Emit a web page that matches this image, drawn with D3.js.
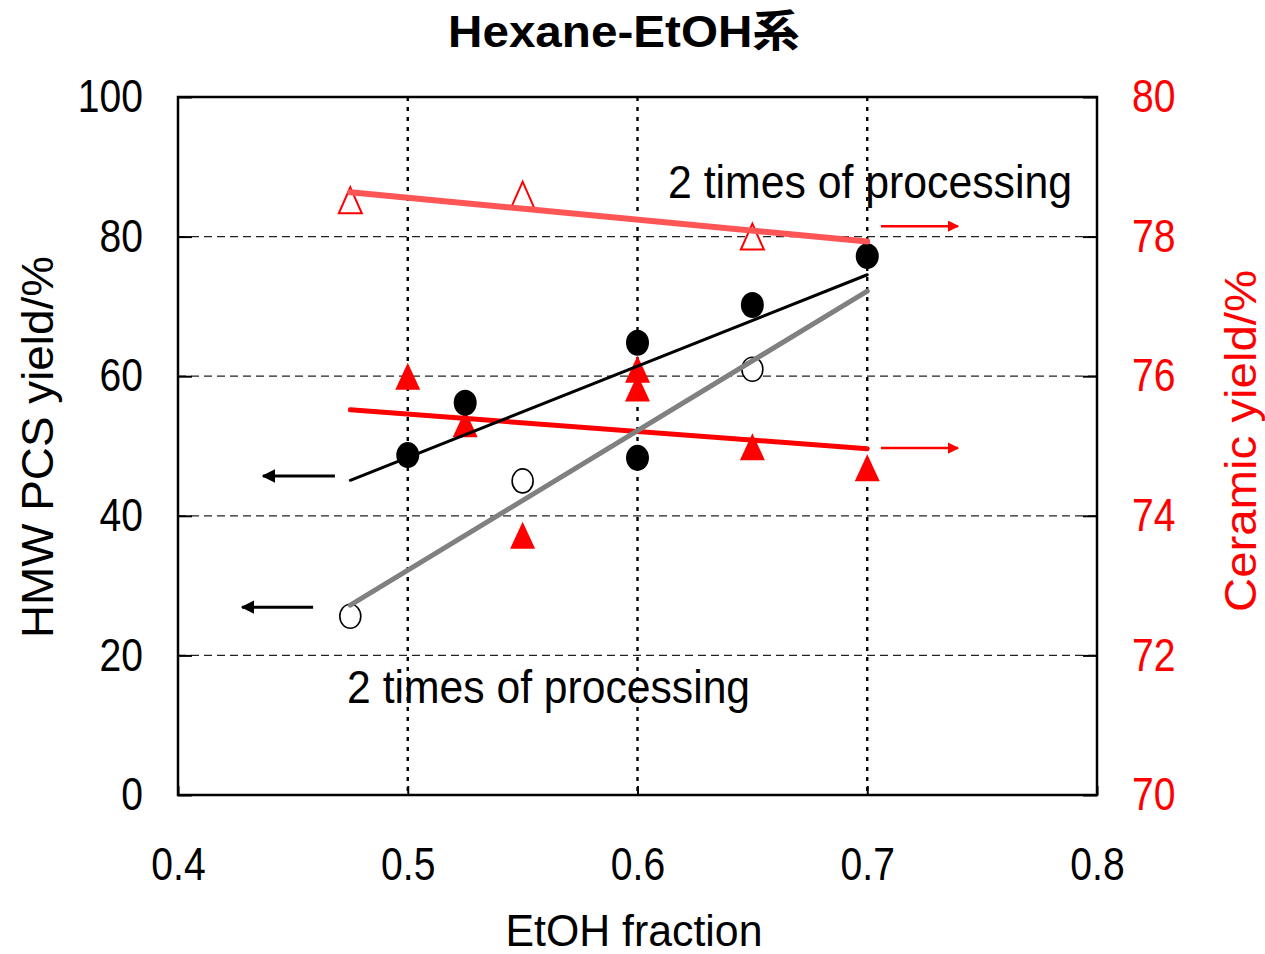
<!DOCTYPE html>
<html>
<head>
<meta charset="utf-8">
<script src="https://cdn.jsdelivr.net/npm/d3@7"></script>
<style>
  body { margin: 0; background: #fff; }
  text { font-family: "Liberation Sans", Arial, "Noto Sans CJK JP", sans-serif; }
</style>
</head>
<body>
<svg id="chart" width="1265" height="954"></svg>
<script>
// Axis ticks
const xTicks = [0.4, 0.5, 0.6, 0.7, 0.8];
const leftTicks = [0, 20, 40, 60, 80, 100];
const rightTicks = [70, 72, 74, 76, 78, 80];

// HMW PCS yield (%), single processing (filled circles)
const pcsX = [0.5, 0.525, 0.6, 0.6, 0.65, 0.7];
const pcsY = [48.7, 56.2, 64.8, 48.3, 70.2, 77.2];
// HMW PCS yield (%), 2 times of processing (open circles)
const pcs2X = [0.475, 0.55, 0.65];
const pcs2Y = [25.6, 45.0, 61.0];
// Ceramic yield (%), single processing (filled triangles)
const ceramicX = [0.5, 0.525, 0.55, 0.6, 0.6, 0.65, 0.7];
const ceramicY = [76.0, 75.32, 73.72, 76.1, 75.83, 74.99, 74.69];
// Ceramic yield (%), 2 times of processing (open triangles)
const ceramic2X = [0.475, 0.55, 0.65];
const ceramic2Y = [78.52, 78.60, 78.0];
// EtOH fraction span covered by the linear trend lines
const trendRange = [0.475, 0.7];

const svg = d3.select("#chart");
const plot = { left: 178, right: 1097, top: 97, bottom: 795 };

const x = d3.scaleLinear().domain([0.4, 0.8]).range([plot.left, plot.right]);
const yL = d3.scaleLinear().domain([0, 100]).range([plot.bottom, plot.top]);
const yR = d3.scaleLinear().domain([70, 80]).range([plot.bottom, plot.top]);

const RED = "#ff0000";

// squeeze text horizontally to mimic the narrow face of the original
function condense(sel, ratio) {
  sel.each(function () {
    const w = this.getComputedTextLength();
    d3.select(this).attr("textLength", w * ratio).attr("lengthAdjust", "spacingAndGlyphs");
  });
}
function fitWidth(sel, width) {
  sel.attr("textLength", width).attr("lengthAdjust", "spacingAndGlyphs");
}

// grid
svg.append("g").selectAll("line")
  .data(leftTicks.filter(v => v > 0 && v < 100))
  .join("line")
  .attr("x1", plot.left).attr("x2", plot.right)
  .attr("y1", d => yL(d)).attr("y2", d => yL(d))
  .attr("stroke", "#222").attr("stroke-width", 1.3).attr("stroke-dasharray", "8,5");

svg.append("g").selectAll("line")
  .data(xTicks.filter(v => v > 0.4 && v < 0.8))
  .join("line")
  .attr("x1", d => x(d)).attr("x2", d => x(d))
  .attr("y1", plot.top).attr("y2", plot.bottom)
  .attr("stroke", "#000").attr("stroke-width", 2.4).attr("stroke-dasharray", "4,6");

// axes
const fmtX = d3.format(".1f");
const gx = svg.append("g").attr("transform", `translate(0,${plot.bottom})`)
  .call(d3.axisBottom(x).tickValues(xTicks).tickFormat(d => fmtX(d)).tickSize(-9).tickPadding(52));
const gl = svg.append("g").attr("transform", `translate(${plot.left},0)`)
  .call(d3.axisLeft(yL).tickValues(leftTicks).tickSize(-14).tickPadding(35));
const gr = svg.append("g").attr("transform", `translate(${plot.right},0)`)
  .call(d3.axisRight(yR).tickValues(rightTicks).tickSize(-14).tickPadding(35));

[gx, gl, gr].forEach(g => {
  g.select(".domain").remove();
  g.selectAll(".tick line").attr("stroke", "#000").attr("stroke-width", 2);
  g.selectAll(".tick text").attr("font-size", 46).attr("fill", "#000");
});
gr.selectAll(".tick text").attr("fill", RED);
[gx, gl, gr].forEach(g => condense(g.selectAll(".tick text"), 0.85));

// frame
svg.append("rect")
  .attr("x", plot.left).attr("y", plot.top)
  .attr("width", plot.right - plot.left).attr("height", plot.bottom - plot.top)
  .attr("fill", "none").attr("stroke", "#000").attr("stroke-width", 2.5);

// arrowheads
const defs = svg.append("defs");
[["arrowBlack", "#000"], ["arrowRed", RED]].forEach(([id, c]) => {
  defs.append("marker").attr("id", id)
    .attr("viewBox", "0 0 10 10").attr("refX", 9).attr("refY", 5)
    .attr("markerWidth", 4.5).attr("markerHeight", 4.5).attr("markerUnits", "strokeWidth")
    .attr("orient", "auto")
    .append("path").attr("d", "M0,0 L10,5 L0,10 Z").attr("fill", c);
});

// markers
const triangle = (cx, cy, w, h) =>
  `M${cx},${cy - h / 2} L${cx + w / 2},${cy + h / 2} L${cx - w / 2},${cy + h / 2} Z`;

svg.append("g").selectAll("path")
  .data(d3.zip(ceramicX, ceramicY))
  .join("path")
  .attr("d", d => triangle(x(d[0]), yR(d[1]), 25, 27))
  .attr("fill", RED);

svg.append("g").selectAll("path")
  .data(d3.zip(ceramic2X, ceramic2Y))
  .join("path")
  .attr("d", d => triangle(x(d[0]), yR(d[1]), 23, 26))
  .attr("fill", "#fff").attr("stroke", RED).attr("stroke-width", 2);

svg.append("g").selectAll("ellipse")
  .data(d3.zip(pcs2X, pcs2Y))
  .join("ellipse")
  .attr("cx", d => x(d[0])).attr("cy", d => yL(d[1]))
  .attr("rx", 10.5).attr("ry", 12)
  .attr("fill", "#fff").attr("stroke", "#000").attr("stroke-width", 1.6);

svg.append("g").selectAll("ellipse")
  .data(d3.zip(pcsX, pcsY))
  .join("ellipse")
  .attr("cx", d => x(d[0])).attr("cy", d => yL(d[1]))
  .attr("rx", 11.5).attr("ry", 13)
  .attr("fill", "#000");

// least-squares trend lines
function fit(xs, ys) {
  const mx = d3.mean(xs), my = d3.mean(ys);
  let sxy = 0, sxx = 0;
  xs.forEach((v, i) => { sxy += (v - mx) * (ys[i] - my); sxx += (v - mx) ** 2; });
  const b = sxy / sxx;
  return v => my + b * (v - mx);
}
function trend(xs, ys, yScale, color, width) {
  const f = fit(xs, ys);
  const line = d3.line().x(d => x(d)).y(d => yScale(f(d)));
  svg.append("path").attr("d", line(trendRange))
    .attr("fill", "none").attr("stroke", color).attr("stroke-width", width)
    .attr("stroke-linecap", "round");
}
trend(ceramic2X, ceramic2Y, yR, "#ff5555", 6);
trend(ceramicX, ceramicY, yR, RED, 5);
trend(pcs2X, pcs2Y, yL, "#808080", 5);
trend(pcsX, pcsY, yL, "#000", 3);

// arrows pointing to the axis each series belongs to
function arrow(x1, x2, y, color, marker, width) {
  svg.append("line")
    .attr("x1", x(x1)).attr("x2", x(x2)).attr("y1", y).attr("y2", y)
    .attr("stroke", color).attr("stroke-width", width)
    .attr("marker-end", `url(#${marker})`);
}
arrow(0.4683, 0.437, yL(45.7), "#000", "arrowBlack", 3);
arrow(0.4588, 0.4279, yL(26.9), "#000", "arrowBlack", 3);
arrow(0.706, 0.7395, yR(78.15), RED, "arrowRed", 2.5);
arrow(0.706, 0.7395, yR(74.97), RED, "arrowRed", 2.5);

// annotations
svg.append("text").attr("x", x(0.6133)).attr("y", yL(85.6))
  .attr("font-size", 46).attr("fill", "#000").text("2 times of processing")
  .call(fitWidth, 404);
svg.append("text").attr("x", x(0.4736)).attr("y", yL(13.2))
  .attr("font-size", 46).attr("fill", "#000").text("2 times of processing")
  .call(fitWidth, 403);

// titles
svg.append("text").attr("x", 624).attr("y", 47)
  .attr("text-anchor", "middle").attr("font-size", 44).attr("font-weight", "bold")
  .text("Hexane-EtOH系").call(fitWidth, 352);

svg.append("text").attr("x", 634).attr("y", 946)
  .attr("text-anchor", "middle").attr("font-size", 44)
  .text("EtOH fraction").call(fitWidth, 257);

svg.append("text").attr("transform", "translate(53,447) rotate(-90)")
  .attr("text-anchor", "middle").attr("font-size", 45)
  .text("HMW PCS yield/%").call(fitWidth, 382);

svg.append("text").attr("transform", "translate(1256,441) rotate(-90)")
  .attr("text-anchor", "middle").attr("font-size", 45).attr("fill", RED)
  .text("Ceramic yield/%").call(fitWidth, 342);
</script>
</body>
</html>
